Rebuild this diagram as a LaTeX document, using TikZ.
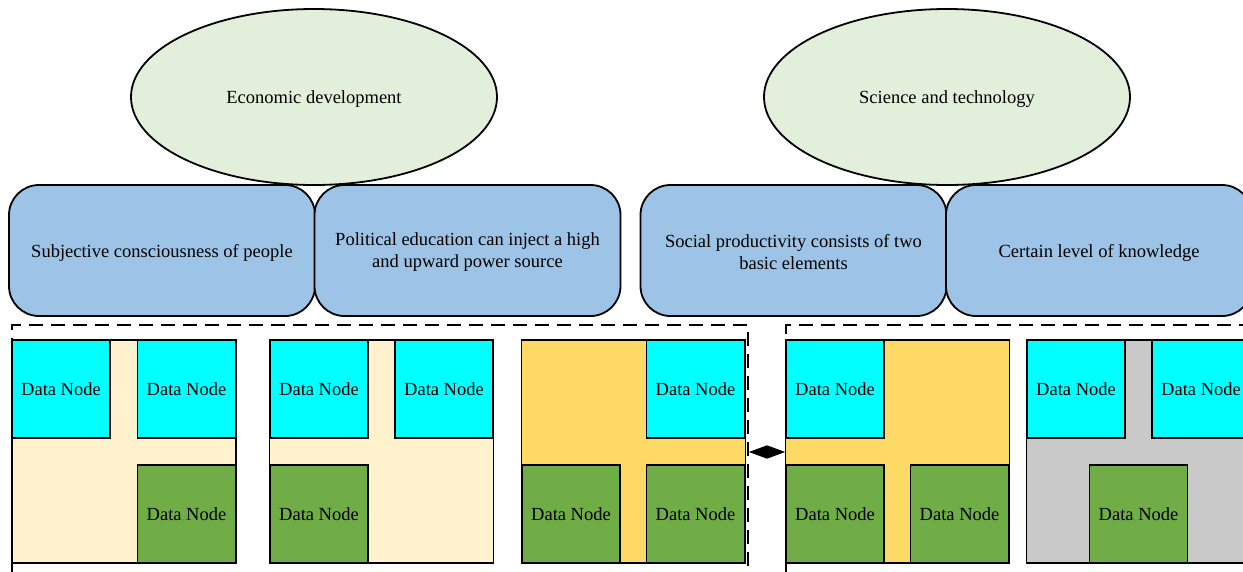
\documentclass[tikz,border=0pt]{standalone}
\usepackage{fontspec}
\setmainfont{Liberation Serif}
\usetikzlibrary{shapes.geometric,arrows.meta}
\definecolor{ellfill}{HTML}{E2EFDA}
\definecolor{boxfill}{HTML}{9DC3E6}
\definecolor{cyanfill}{HTML}{00FFFF}
\definecolor{greenfill}{HTML}{70AD47}
\definecolor{beigefill}{HTML}{FFF2CC}
\definecolor{orangefill}{HTML}{FFD966}
\definecolor{grayfill}{HTML}{C9C9C9}
\newcommand{\upstrut}[1]{\rule{0pt}{#1}}
\tikzset{
  txt/.style={font=\fontsize{18.5}{22}\selectfont, align=center},
  ell/.style={ellipse, draw, line width=1.8pt, fill=ellfill, minimum width=366pt, minimum height=176pt, inner sep=0pt, txt},
  rbox/.style={rectangle, rounded corners=30pt, draw, line width=1.8pt, fill=boxfill, minimum width=306pt, minimum height=131pt, inner sep=0pt, txt},
  panel/.style={rectangle, draw, line width=1.8pt, minimum width=224pt, minimum height=223pt, inner sep=0pt},
  cnode/.style={rectangle, draw, line width=1.8pt, fill=cyanfill, minimum width=98pt, minimum height=98pt, inner sep=0pt, txt},
  gnode/.style={rectangle, draw, line width=1.8pt, fill=greenfill, minimum width=98pt, minimum height=98pt, inner sep=0pt, txt},
  dbox/.style={rectangle, draw, line width=1.8pt, dash pattern=on 14pt off 8pt, inner sep=0pt},
}
\begin{document}
\begin{tikzpicture}[x=1pt,y=-1pt]
\useasboundingbox (0,0) rectangle (1243,571);
\clip (0,0) rectangle (1243,571);
% ellipses
\node[ell] (e1) at (314,97) {\upstrut{17pt}Economic development};
\node[ell] (e2) at (947,97) {\upstrut{17pt}Science and technology};
% rounded boxes
\node[rbox] (b1) at (162,250.5) {\upstrut{17pt}Subjective consciousness of people};
\node[rbox] (b2) at (467.5,250.5) {\upstrut{15.8pt}Political education can inject a high\\and upward power source};
\node[rbox] (b3) at (793.5,250.5) {\upstrut{15.8pt}Social productivity consists of two\\basic elements};
\node[rbox] (b4) at (1099,250.5) {\upstrut{17pt}Certain level of knowledge};
% dashed containers
\node[dbox, minimum width=736pt, minimum height=275pt] (L) at (380,462.5) {};
\node[dbox, minimum width=514pt, minimum height=275pt] (R) at (1043,462.5) {};
% panel 1
\node[panel, fill=beigefill] (p1) at (124,451.5) {};
\node[cnode] (c11) at (61,389) {\upstrut{14pt}Data Node};
\node[cnode] (c12) at (186.5,389) {\upstrut{14pt}Data Node};
\node[gnode] (g11) at (186.5,514) {\upstrut{14pt}Data Node};
% panel 2
\node[panel, fill=beigefill] (p2) at (381.5,451.5) {};
\node[cnode] (c21) at (319,389) {\upstrut{14pt}Data Node};
\node[cnode] (c22) at (444,389) {\upstrut{14pt}Data Node};
\node[gnode] (g21) at (319,514) {\upstrut{14pt}Data Node};
% panel 3
\node[panel, fill=orangefill] (p3) at (633.5,451.5) {};
\node[cnode] (c31) at (695.5,389) {\upstrut{14pt}Data Node};
\node[gnode] (g31) at (571,514) {\upstrut{14pt}Data Node};
\node[gnode] (g32) at (695.5,514) {\upstrut{14pt}Data Node};
% panel 4
\node[panel, fill=orangefill] (p4) at (897.5,451.5) {};
\node[cnode] (c41) at (835,389) {\upstrut{14pt}Data Node};
\node[gnode] (g41) at (835,514) {\upstrut{14pt}Data Node};
\node[gnode] (g42) at (959.5,514) {\upstrut{14pt}Data Node};
% panel 5
\node[panel, fill=grayfill] (p5) at (1138.5,451.5) {};
\node[cnode] (c51) at (1076,389) {\upstrut{14pt}Data Node};
\node[cnode] (c52) at (1201,389) {\upstrut{14pt}Data Node};
\node[gnode] (g51) at (1138.5,514) {\upstrut{14pt}Data Node};
% double arrow
\coordinate (ay) at (0,452);
\draw[line width=1pt, {Triangle[length=18pt,width=13pt]}-{Triangle[length=18pt,width=13pt]}] (L.east |- ay) -- (R.west |- ay);
\end{tikzpicture}
\end{document}
